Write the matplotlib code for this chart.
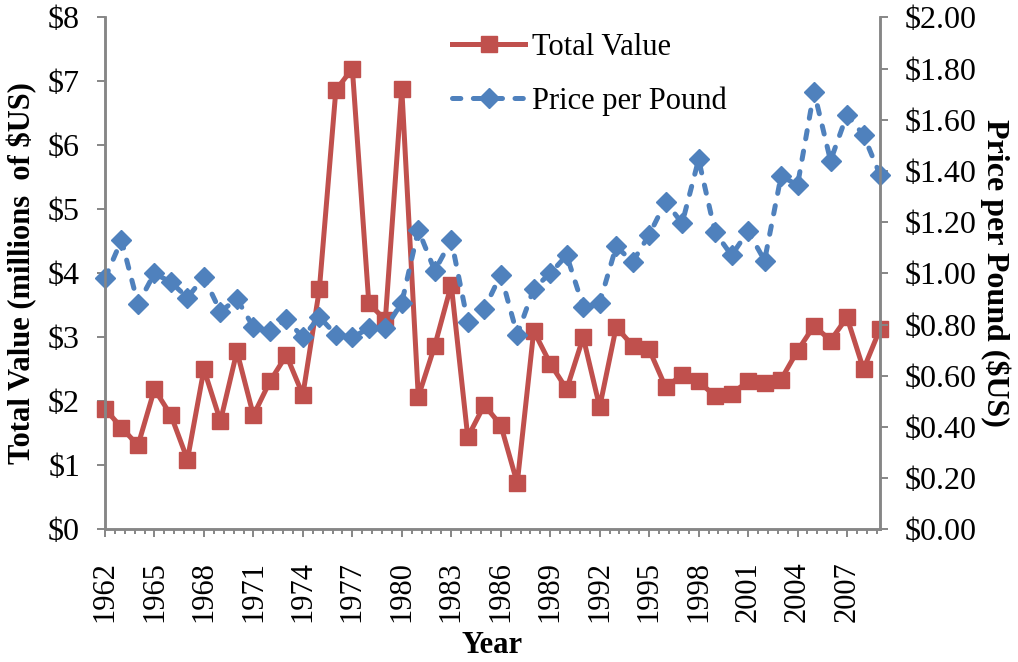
import matplotlib
matplotlib.use("Agg")
import matplotlib.pyplot as plt
from matplotlib.ticker import FixedLocator, FuncFormatter
import numpy as np

years = list(range(1962, 2010))
total_value = [1.88, 1.59, 1.31, 2.19, 1.78, 1.09, 2.50, 1.69, 2.78, 1.78,
               2.31, 2.72, 2.10, 3.75, 6.86, 7.20, 3.53, 3.27, 6.88, 2.07,
               2.87, 3.82, 1.44, 1.94, 1.63, 0.72, 3.10, 2.59, 2.19, 3.00,
               1.91, 3.16, 2.87, 2.81, 2.22, 2.41, 2.31, 2.08, 2.12, 2.31,
               2.28, 2.34, 2.79, 3.18, 2.95, 3.31, 2.50, 3.13]
price_per_pound = [0.98, 1.13, 0.88, 1.00, 0.965, 0.905, 0.985, 0.85, 0.90, 0.79,
                   0.775, 0.82, 0.75, 0.83, 0.76, 0.75, 0.785, 0.785, 0.885, 1.17,
                   1.01, 1.13, 0.81, 0.86, 0.995, 0.76, 0.94, 1.00, 1.07, 0.87,
                   0.885, 1.105, 1.045, 1.15, 1.28, 1.195, 1.445, 1.16, 1.07, 1.165,
                   1.05, 1.38, 1.345, 1.71, 1.44, 1.62, 1.54, 1.385]
year_ticks = list(range(1962, 2008, 3))

RED = "#C0504D"
BLUE = "#4F81BD"
GRAY = "#868686"

plt.rcParams['font.family'] = ['Liberation Serif', 'DejaVu Serif']
plt.rcParams['lines.scale_dashes'] = False

fig = plt.figure(figsize=(10.18, 6.62), dpi=100)
ax = fig.add_axes([105/1018, 1-529.3/662, (880-105)/1018, (529.3-17.3)/662])
ax2 = ax.twinx()

l1, = ax.plot(years, total_value, color=RED, lw=3.6, marker='s', ms=12,
              mec=RED, mfc=RED, label='Total Value', solid_joinstyle='round',
              clip_on=False)
l2, = ax2.plot(years, price_per_pound, color=BLUE, lw=3.6, marker='D', ms=10,
               mec=BLUE, mfc=BLUE, label='Price per Pound', dashes=(6, 9),
               dash_capstyle='round', clip_on=False)

ax.set_xlim(1962, 2009)
ax.set_ylim(0, 8)
ax2.set_ylim(0, 2)

ax.xaxis.set_major_locator(FixedLocator(year_ticks))
ax.xaxis.set_minor_locator(FixedLocator(list(np.arange(1962, 2009.01, 0.6))))
ax.set_xticklabels([str(y) for y in year_ticks], rotation=90)
ax.yaxis.set_major_locator(FixedLocator(list(range(0, 9))))
ax.yaxis.set_major_formatter(FuncFormatter(lambda v, p: '$%d' % v))
ax2.yaxis.set_major_locator(FixedLocator(list(np.arange(0, 2.01, 0.2))))
ax2.yaxis.set_major_formatter(FuncFormatter(lambda v, p: '$%.2f' % v))

for a in (ax, ax2):
    for s in a.spines.values():
        s.set_color(GRAY)
        s.set_linewidth(1.8)
    a.spines['top'].set_visible(False)

ax.tick_params(axis='x', which='major', length=6, width=1.4, color=GRAY,
               labelsize=22, pad=17, direction='out')
ax.tick_params(axis='x', which='minor', length=3.5, width=1.4, color=GRAY, direction='out')
ax.tick_params(axis='y', length=6, width=1.4, color=GRAY, labelsize=23, pad=12, direction='out')
ax2.tick_params(axis='y', length=6, width=1.4, color=GRAY, labelsize=23, pad=12, direction='out')

ax.set_xlabel('Year', fontsize=22, fontweight='bold', labelpad=6)
ax.set_ylabel('Total Value (millions  of $US)', fontsize=22, fontweight='bold', labelpad=8)
ax2.set_ylabel('Price per Pound ($US)', fontsize=23, fontweight='bold', rotation=270,
               labelpad=24)

fig.legend(handles=[l1, l2], loc='upper left', bbox_to_anchor=(452/1018, 1-33/662),
           frameon=False, fontsize=22, handlelength=2.4, handletextpad=0.23,
           labelspacing=0.8, borderpad=0, borderaxespad=0)

fig.savefig('out.png', dpi=100)
